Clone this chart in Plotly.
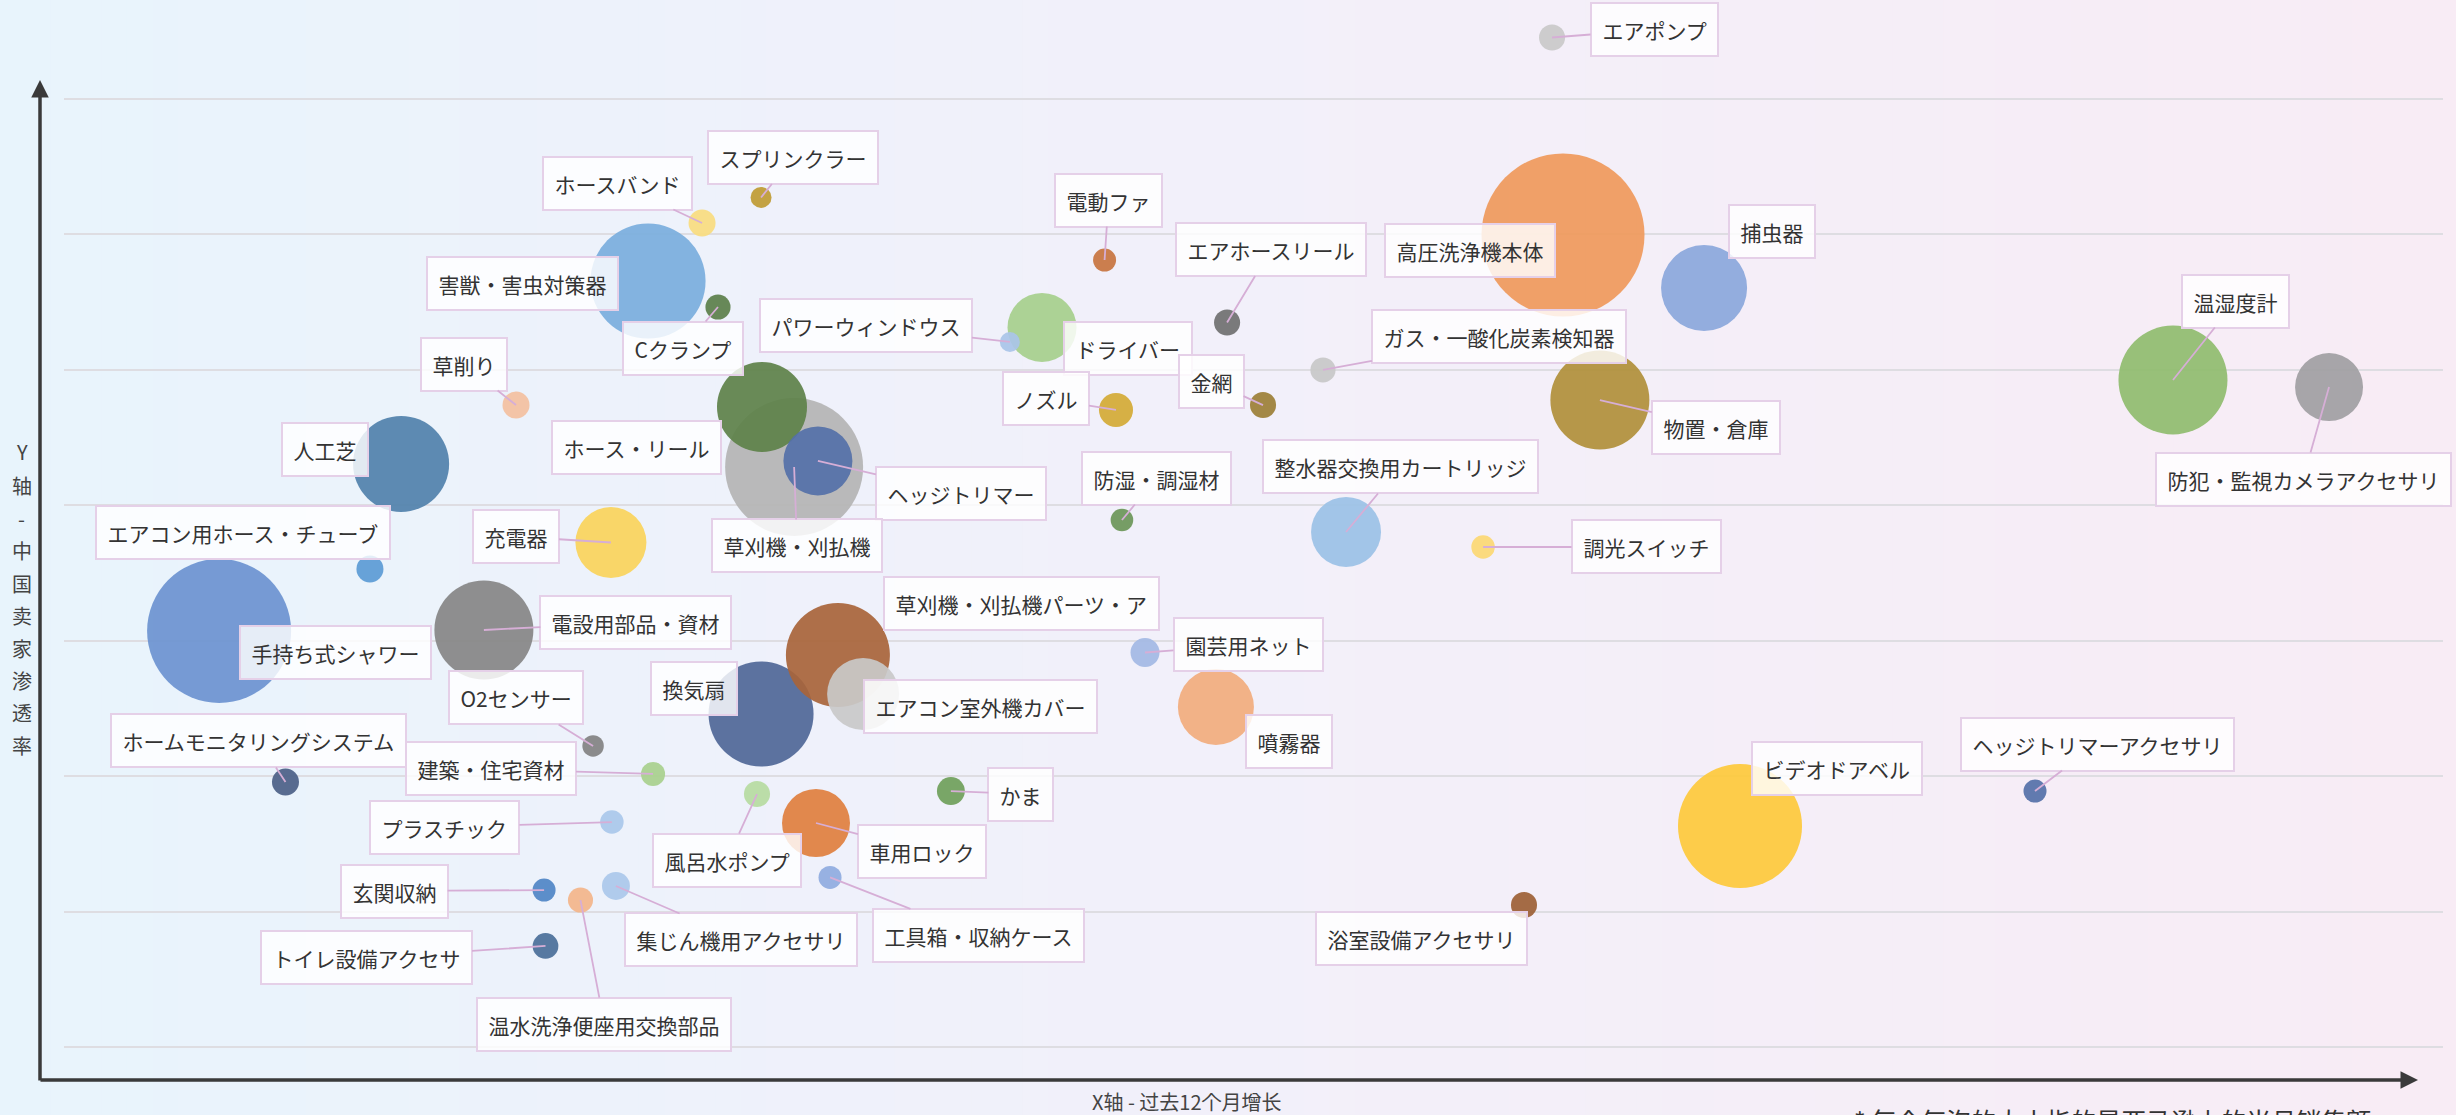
import plotly.graph_objects as go
import numpy as np

# ---------------- data ----------------
names = ["エアポンプ", "スプリンクラー", "ホースバンド", "電動ファ", "エアホースリール", "高圧洗浄機本体",
         "捕虫器", "害獣・害虫対策器", "Cクランプ", "パワーウィンドウス", "ドライバー",
         "ガス・一酸化炭素検知器", "温湿度計", "防犯・監視カメラアクセサリ", "草削り", "金網", "ノズル",
         "物置・倉庫", "人工芝", "ホース・リール", "ヘッジトリマー", "草刈機・刈払機", "防湿・調湿材",
         "整水器交換用カートリッジ", "調光スイッチ", "エアコン用ホース・チューブ", "充電器",
         "草刈機・刈払機パーツ・ア", "電設用部品・資材", "手持ち式シャワー", "園芸用ネット", "O2センサー",
         "換気扇", "エアコン室外機カバー", "噴霧器", "ホームモニタリングシステム", "建築・住宅資材",
         "ビデオドアベル", "ヘッジトリマーアクセサリ", "かま", "プラスチック", "風呂水ポンプ", "車用ロック",
         "玄関収納", "集じん機用アクセサリ", "工具箱・収納ケース", "温水洗浄便座用交換部品",
         "トイレ設備アクセサ", "浴室設備アクセサリ"]

growth = [62.55, 29.30, 26.82, 43.74, 48.89, 63.01, 68.94, 24.55, 27.49, 39.76, 41.11, 52.92, 88.65,
          95.21, 19.00, 50.40, 44.22, 64.56, 14.17, 29.34, 31.69, 30.69, 44.47, 53.89, 59.65, 12.86,
          22.99, 32.53, 17.65, 6.52, 45.44, 22.24, 29.30, 33.59, 48.42, 9.31, 24.76, 70.45, 82.85,
          37.28, 23.03, 29.13, 31.61, 20.18, 23.20, 32.20, 21.71, 20.24, 61.37]

penetration = [74.54, 62.73, 60.84, 58.11, 53.50, 59.96, 56.04, 56.56, 54.64, 52.06, 53.13, 49.99,
               49.25, 48.73, 47.40, 47.40, 47.04, 47.77, 43.05, 47.26, 43.27, 42.83, 38.91, 38.03,
               36.92, 35.30, 37.25, 28.94, 30.79, 30.72, 29.13, 22.23, 24.59, 26.07, 25.11, 19.57,
               20.16, 16.32, 18.90, 18.90, 16.61, 18.68, 16.54, 11.59, 11.89, 12.52, 10.85, 7.46, 10.49]

sales = [6.8, 4.4, 7.3, 5.3, 6.8, 265.7, 74.0, 132.3, 6.3, 4.0, 47.6, 6.3, 118.8, 46.2, 7.3, 6.8,
         11.6, 98.0, 92.2, 81.0, 47.6, 190.4, 5.1, 49.0, 5.5, 7.3, 50.4, 108.2, 98.0, 207.4, 8.4,
         4.6, 110.3, 51.8, 57.8, 7.3, 5.8, 153.8, 5.3, 7.8, 5.5, 6.8, 46.2, 5.3, 7.8, 5.3, 6.3, 6.6, 6.8]

x_title = "X轴 - 过去12个月增长"
y_title_chars = ["Y", "轴", "-", "中", "国", "卖", "家", "渗", "透", "率"]
note_text = "* 每个气泡的大小指的是亚马逊上的当月销售额"

# ---------------- styles ----------------
colors = ["#c9c9c9", "#bf9b33", "#f9dc7f", "#c8743f", "#707070", "#ef995b", "#8aa7db", "#79aedd",
          "#5b7f4a", "#a9c4e8", "#a6cf8c", "#c8c8c8", "#8fbc6e", "#a09ea2", "#f3c09f", "#9c7f36",
          "#d4aa35", "#b08f3a", "#5081ab", "#5d8149", "#5470a8", "#b4b4b4", "#6b9658", "#9bc1e6",
          "#fcd873", "#5b9bd5", "#fad45b", "#a8643a", "#868686", "#6b93d0", "#a3b9e4", "#828282",
          "#4f6797", "#c9c9c9", "#f2ac7d", "#4b6087", "#a8d08d", "#fdc93b", "#5470a8", "#6f9f5a",
          "#a9c8ea", "#b6dba1", "#e07f3e", "#4f86c6", "#aac8ea", "#8fabe0", "#f3b58a", "#4a6f99",
          "#9c5f35"]

# label offsets in pixels (dx right, dy down) and whether a leader line is shown
label_offsets = [(102, -8), (32, -40), (-85, -40), (4, -60), (44, -73), (-93, 16), (68, -57),
                 (-126, 2), (-35, 41), (-144, -16), (86, 21), (176, -33), (63, -79), (-26, 92),
                 (-52, -41), (-52, -24), (-70, -11), (116, 27), (-76, -14), (-126, 41), (143, 33),
                 (3, 79), (35, -42), (54, -65), (163, 0), (-127, -36), (-95, -6), (184, -52),
                 (152, -8), (116, 22), (103, -8), (-77, -48), (-67, -25), (117, 13), (73, 35),
                 (-27, -41), (-162, -5), (97, -57), (62, -47), (70, 3), (-167, 5), (-30, 66),
                 (106, 28), (-150, 1), (125, 54), (148, 58), (24, 124), (-179, 12), (-102, 34)]
leader = [1, 1, 1, 1, 1, 0, 0, 0, 1, 1, 0, 1, 1, 1, 1, 1, 1, 1, 0, 0, 1, 1, 1, 1, 1, 0, 1, 0, 1, 0,
          1, 1, 0, 0, 0, 1, 1, 0, 1, 1, 1, 1, 1, 1, 1, 1, 1, 1, 0]

W, H = 2456, 1115
ML, MR, MT, MB = 64, 13, 0, 35
PW, PH = W - ML - MR, H - MT - MB
FONT = "Noto Sans CJK JP, Noto Sans CJK SC, sans-serif"
TEXT = "#333333"


def px_to_paper_x(px):
    return (px - ML) / PW


def py_to_paper_y(py):
    return (H - MB - py) / PH


fig = go.Figure()

# draw bigger bubbles first so small ones sit on top
order = np.argsort(-np.array(sales), kind="stable")
fig.add_trace(go.Scatter(
    x=[growth[i] for i in order],
    y=[penetration[i] for i in order],
    text=[names[i] for i in order],
    mode="markers",
    marker=dict(size=[sales[i] for i in order], sizemode="area", sizeref=0.02,
                color=[colors[i] for i in order], opacity=0.92, line=dict(width=0)),
    hovertemplate="%{text}<br>增长 %{x}<br>渗透率 %{y}<extra></extra>",
    showlegend=False,
))

annotations = []
for i, name in enumerate(names):
    dx, dy = label_offsets[i]
    base = dict(x=growth[i], y=penetration[i], xref="x", yref="y", text=name,
                font=dict(family=FONT, size=21, color=TEXT),
                bgcolor="rgba(255,255,255,0.82)", bordercolor="#e5d0e8", borderwidth=2,
                borderpad=10.5)
    if leader[i]:
        base.update(showarrow=True, ax=dx, ay=dy, arrowhead=0, arrowwidth=1.8,
                    arrowcolor="#d6aed6", standoff=0, startstandoff=0)
    else:
        base.update(showarrow=False, xshift=dx, yshift=-dy)
    annotations.append(base)

# axis arrows
annotations.append(dict(x=px_to_paper_x(40), y=py_to_paper_y(80), xref="paper", yref="paper",
                        ax=0, ay=1002, axref="pixel", ayref="pixel", text="", showarrow=True,
                        arrowhead=2, arrowsize=1, arrowwidth=3.5, arrowcolor="#3a3a3a",
                        standoff=0))
annotations.append(dict(x=px_to_paper_x(2418), y=py_to_paper_y(1080), xref="paper", yref="paper",
                        ax=-(2418 - 39), ay=0, axref="pixel", ayref="pixel", text="",
                        showarrow=True, arrowhead=2, arrowsize=1, arrowwidth=3.5,
                        arrowcolor="#3a3a3a", standoff=0))

# axis titles
annotations.append(dict(x=px_to_paper_x(1187), y=py_to_paper_y(1101), xref="paper", yref="paper",
                        text=x_title, showarrow=False, xanchor="center", yanchor="middle",
                        font=dict(family=FONT, size=20, color="#444444")))
for k, ch in enumerate(y_title_chars):
    ypx = 451 if k == 0 else 486 + 32.4 * (k - 1)
    annotations.append(dict(x=px_to_paper_x(22), y=py_to_paper_y(ypx), xref="paper", yref="paper",
                            text=ch, showarrow=False, xanchor="center", yanchor="middle",
                            font=dict(family=FONT, size=20, color="#444444")))
annotations.append(dict(x=px_to_paper_x(1852), y=py_to_paper_y(1100), xref="paper", yref="paper",
                        text=note_text, showarrow=False, xanchor="left", yanchor="top",
                        font=dict(family=FONT, size=25, color="#333333")))

# gradient background (vertical stripes)
stops = [(0, (232, 244, 252)), (1200, (242, 240, 250)), (2456, (248, 236, 245))]


def grad(px):
    for (a, ca), (b, cb) in zip(stops[:-1], stops[1:]):
        if a <= px <= b:
            t = (px - a) / (b - a)
            return tuple(round(ca[j] + (cb[j] - ca[j]) * t) for j in range(3))
    return stops[-1][1]


shapes = []
n = 96
sw = W / n
for k in range(n):
    x0 = k * sw
    c = grad(x0 + sw / 2)
    shapes.append(dict(type="rect", xref="paper", yref="paper",
                       x0=px_to_paper_x(x0 - 1), x1=px_to_paper_x(x0 + sw + 1),
                       y0=py_to_paper_y(H + 2), y1=py_to_paper_y(-2),
                       fillcolor="rgb(%d,%d,%d)" % c, line=dict(width=0), layer="below"))

y_lo = (1047 - (H - MB)) / 13.543
y_hi = 1047 / 13.543

fig.update_layout(
    width=W, height=H,
    margin=dict(l=ML, r=MR, t=MT, b=MB, pad=0),
    paper_bgcolor="rgb(241,240,250)",
    plot_bgcolor="rgba(0,0,0,0)",
    font=dict(family=FONT, color=TEXT),
    xaxis=dict(range=[0, 100], showgrid=False, zeroline=False, showline=False,
               showticklabels=False, ticks="", fixedrange=True),
    yaxis=dict(range=[y_lo, y_hi], tick0=0, dtick=10, showgrid=True, gridcolor="#dedde2",
               gridwidth=2, zeroline=False, showline=False, showticklabels=False, ticks="",
               fixedrange=True),
    annotations=annotations,
    shapes=shapes,
    showlegend=False,
)

fig.write_html("out.html",
               config={"displayModeBar": False},
               post_script="document.body.style.margin='0';document.body.style.padding='0';"
                           "document.body.style.overflow='hidden';"
                           "document.documentElement.style.overflow='hidden';")
